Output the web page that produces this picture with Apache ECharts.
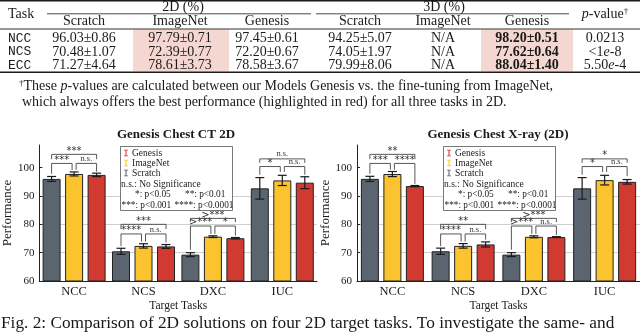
<!DOCTYPE html>
<html>
<head>
<meta charset="utf-8">
<script src="https://cdn.jsdelivr.net/npm/echarts@6/dist/echarts.min.js"></script>
<style>
  html, body { margin: 0; padding: 0; background: #fff; }
  #main { width: 640px; height: 333px; }
</style>
</head>
<body>
<div id="main"></div>
<script>
// ---- table (top) ----
const tableTasks = ['NCC', 'NCS', 'ECC'];
const scratch2D = ['96.03±0.86', '70.48±1.07', '71.27±4.64'];
const imagenet2D = ['97.79±0.71', '72.39±0.77', '78.61±3.73'];
const genesis2D = ['97.45±0.61', '72.20±0.67', '78.58±3.67'];
const scratch3D = ['94.25±5.07', '74.05±1.97', '79.99±8.06'];
const imagenet3D = ['N/A', 'N/A', 'N/A'];
const genesis3D = ['98.20±0.51', '77.62±0.64', '88.04±1.40'];
const pValues = ['0.0213', '<1e-8', '5.50e-4'];
const subHeaders = ['Scratch', 'ImageNet', 'Genesis', 'Scratch', 'ImageNet', 'Genesis'];

// ---- bar charts ----
const categories = ['NCC', 'NCS', 'DXC', 'IUC'];
const yTicks = [60, 70, 80, 90, 100];
const seriesNames = ['Scratch', 'ImageNet', 'Genesis'];

// Genesis Chest CT 2D
const ctScratch = [96.03, 70.48, 69.3, 92.7];
const ctScratchErr = [0.86, 1.07, 0.7, 3.8];
const ctImageNet = [97.79, 72.39, 75.65, 95.5];
const ctImageNetErr = [0.71, 0.77, 0.3, 1.8];
const ctGenesis = [97.45, 72.20, 75.1, 94.7];
const ctGenesisErr = [0.61, 0.67, 0.25, 2.1];
// [category, barA, barB, bracket level, foot A, foot B]
const ctBrackets = [
  [0, 0, 1, 101.5, 97.8, 99.2], [0, 1, 2, 101.5, 99.2, 98.6], [0, 0, 2, 104.7, 103.0, 103.0],
  [1, 0, 1, 76.6, 72.3, 73.9], [1, 1, 2, 76.6, 73.9, 73.6], [1, 0, 2, 80.0, 78.3, 78.3],
  [2, 0, 1, 79.4, 71.0, 76.6], [2, 1, 2, 79.4, 76.6, 76.0], [2, 0, 2, 82.1, 80.8, 80.8],
  [3, 0, 1, 100.4, 97.5, 98.5], [3, 1, 2, 100.4, 98.5, 97.5], [3, 0, 2, 103.1, 101.7, 101.7]
];
const ctBracketLabels = ['***', 'n.s.', '***', '****', 'n.s.', '***', '>***', '*', '>***', '*', 'n.s.', 'n.s.'];

// Genesis Chest X-ray (2D)
const xrScratch = [96.05, 70.5, 69.3, 92.7];
const xrScratchErr = [0.9, 1.1, 0.7, 3.8];
const xrImageNet = [97.75, 72.4, 75.6, 95.6];
const xrImageNetErr = [0.9, 0.8, 0.35, 1.7];
const xrGenesis = [93.5, 72.9, 75.5, 95.0];
const xrGenesisErr = [0.2, 0.9, 0.15, 0.8];
const xrBrackets = [
  [0, 0, 1, 101.5, 97.8, 99.3], [0, 1, 2, 101.5, 99.3, 94.3], [0, 0, 2, 104.7, 103.0, 103.0],
  [1, 0, 1, 76.6, 72.3, 73.9], [1, 1, 2, 76.6, 73.9, 74.6], [1, 0, 2, 80.0, 78.3, 78.3],
  [2, 0, 1, 79.4, 71.0, 76.6], [2, 1, 2, 79.4, 76.6, 76.2], [2, 0, 2, 82.1, 80.8, 80.8],
  [3, 0, 1, 100.4, 97.5, 98.5], [3, 1, 2, 100.4, 98.5, 97.0], [3, 0, 2, 103.1, 101.7, 101.7]
];
const xrBracketLabels = ['***', '****', '**', '****', 'n.s.', '**', '>***', 'n.s.', '>***', '*', 'n.s.', '*'];

const SERIF = '"Liberation Serif", "DejaVu Serif", serif';
const MONO = '"Liberation Mono", "DejaVu Sans Mono", monospace';
const INK = '#1a1a1a';
const COLORS = ['#5a6570', '#fbc42e', '#d13a31'];
const BAR_W = 18;
const BAR_STEP = 22.5;   // bar width + gap

function txt(x, y, text, o) {
  o = o || {};
  return {
    type: 'text', x: x, y: y, z: o.z || 10, silent: true,
    style: {
      text: text, fill: o.color || INK,
      fontSize: o.size || 14, fontFamily: o.family || SERIF,
      fontStyle: o.italic ? 'italic' : 'normal', fontWeight: o.bold ? 'bold' : 'normal',
      align: o.align || 'center', textAlign: o.align || 'center',
      verticalAlign: 'middle', textVerticalAlign: 'middle',
      rich: o.rich
    }
  };
}
function hline(x1, x2, y, w, z) {
  return { type: 'line', z: z || 10, silent: true, shape: { x1: x1, y1: y, x2: x2, y2: y }, style: { stroke: INK, lineWidth: w } };
}
const italicRich = (size) => ({
  i: { fontStyle: 'italic', fontSize: size, fontFamily: SERIF, fill: INK },
  s: { fontSize: size * 0.65, fontFamily: SERIF, fill: INK, verticalAlign: 'top', lineHeight: size }
});

// ---- table graphics ----
const colX = [84, 180, 267, 360, 443, 527];
const rowY = [38.5, 52, 65.5];
const tableG = [];
tableG.push(hline(0, 640, 0.8, 1.4));
tableG.push(txt(8, 14, 'Task', { align: 'left' }));
tableG.push(txt(183, 7, '2D (%)'));
tableG.push(txt(444, 7, '3D (%)'));
tableG.push(txt(605, 14, '{i|p}-value{s|†}', { rich: italicRich(14) }));
tableG.push(hline(47, 311, 13.8, 0.8));
tableG.push(hline(316, 569, 13.8, 0.8));
subHeaders.forEach((h, i) => tableG.push(txt(colX[i], 21, h)));
tableG.push(hline(0, 640, 29, 0.9));
tableG.push({ type: 'rect', z: 5, silent: true, shape: { x: 133, y: 29.5, width: 96, height: 42 }, style: { fill: '#f4d7d0' } });
tableG.push({ type: 'rect', z: 5, silent: true, shape: { x: 481, y: 29.5, width: 92, height: 42 }, style: { fill: '#f4d7d0' } });
tableTasks.forEach((t, r) => {
  const y = rowY[r];
  tableG.push(txt(8, y, t, { align: 'left', family: MONO, size: 13 }));
  tableG.push(txt(colX[0], y, scratch2D[r]));
  tableG.push(txt(colX[1], y, imagenet2D[r]));
  tableG.push(txt(colX[2], y, genesis2D[r]));
  tableG.push(txt(colX[3], y, scratch3D[r]));
  tableG.push(txt(colX[4], y, imagenet3D[r]));
  tableG.push(txt(colX[5], y, genesis3D[r], { bold: true }));
  tableG.push(txt(605, y, pValues[r].replace('e', '{i|e}'), { rich: italicRich(14) }));
});
tableG.push(hline(0, 640, 72.3, 1.4));
// footnote
tableG.push(txt(19, 86.5, '{s|†}These {i|p}-values are calculated between our Models Genesis vs. the fine-tuning from ImageNet,', { align: 'left', rich: italicRich(14) }));
tableG.push(txt(22, 102.5, 'which always offers the best performance (highlighted in red) for all three tasks in 2D.', { align: 'left' }));
// caption
tableG.push(txt(1, 323.5, 'Fig. 2: Comparison of 2D solutions on four 2D target tasks. To investigate the same- and', { align: 'left', size: 17.3 }));

// ---- chart titles & legend boxes ----
const chartG = [];
chartG.push(txt(176, 135, 'Genesis Chest CT 2D', { bold: true, size: 13 }));
chartG.push(txt(498, 135, 'Genesis Chest X-ray (2D)', { bold: true, size: 13 }));
[120, 443].forEach((bx) => {
  chartG.push({ type: 'rect', z: 4, silent: true, shape: { x: bx + 0.5, y: 146.5, width: 112, height: 64 }, style: { fill: '#fff', stroke: '#555', lineWidth: 0.8 } });
  chartG.push(txt(bx + 1, 184, 'n.s.: No Significance', { align: 'left', size: 9.5 }));
  chartG.push(txt(bx + 15, 194.8, '*: p<0.05', { align: 'left', size: 9.3 }));
  chartG.push(txt(bx + 65, 194.8, '**: p<0.01', { align: 'left', size: 9.3 }));
  chartG.push(txt(bx + 1.5, 205.5, '***: p<0.001', { align: 'left', size: 9.3 }));
  chartG.push(txt(bx + 54.5, 205.5, '****: p<0.0001', { align: 'left', size: 9.3 }));
});

// ---- series builders ----
function barSeries(values, idx, axis) {
  return {
    name: seriesNames[idx], type: 'bar', xAxisIndex: axis, yAxisIndex: axis,
    data: values, barWidth: BAR_W, barGap: '25%',
    itemStyle: { color: COLORS[idx], borderColor: '#222', borderWidth: 1 }
  };
}
function errorSeries(means, errs, axis) {
  const data = [];
  means.forEach((arr, b) => arr.forEach((m, c) => data.push([c, m, errs[b][c], b])));
  return {
    type: 'custom', xAxisIndex: axis, yAxisIndex: axis, z: 3, silent: true,
    data: data,
    renderItem: (params, api) => {
      const c = api.value(0), m = api.value(1), e = api.value(2), b = api.value(3);
      const x = api.coord([c, m])[0] + (b - 1) * BAR_STEP;
      const yt = api.coord([c, m + e])[1];
      const yb = api.coord([c, m - e])[1];
      const st = { stroke: '#1a1a1a', lineWidth: 1.2 };
      return {
        type: 'group', children: [
          { type: 'line', shape: { x1: x, y1: yt, x2: x, y2: yb }, style: st },
          { type: 'line', shape: { x1: x - 4.5, y1: yt, x2: x + 4.5, y2: yt }, style: st },
          { type: 'line', shape: { x1: x - 4.5, y1: yb, x2: x + 4.5, y2: yb }, style: st }
        ]
      };
    }
  };
}
function bracketSeries(brackets, labels, axis) {
  return {
    type: 'custom', xAxisIndex: axis, yAxisIndex: axis, z: 3, silent: true,
    data: brackets,
    renderItem: (params, api) => {
      const c = api.value(0), a = api.value(1), b = api.value(2);
      const lvl = api.value(3), fa = api.value(4), fb = api.value(5);
      const cx = api.coord([c, lvl])[0];
      const inner = (b - a) === 1;
      const xa = cx + (a - 1) * BAR_STEP + (inner && a === 1 ? 2 : 0);
      const xb = cx + (b - 1) * BAR_STEP - (inner && b === 1 ? 2 : 0);
      const yl = api.coord([c, lvl])[1];
      const ya = api.coord([c, fa])[1];
      const yb = api.coord([c, fb])[1];
      const lab = labels[params.dataIndex];
      const stars = lab.indexOf('*') >= 0;
      return {
        type: 'group', children: [
          { type: 'polyline', shape: { points: [[xa, ya], [xa, yl], [xb, yl], [xb, yb]] }, style: { stroke: '#444', fill: null, lineWidth: 0.9 } },
          { type: 'text', x: (xa + xb) / 2, y: yl + (stars ? 1.8 : -0.2), style: {
              text: lab, fill: '#333', fontSize: stars ? 10 : 8.5,
              fontFamily: stars ? '"DejaVu Sans", sans-serif' : SERIF,
              align: 'center', textAlign: 'center', verticalAlign: 'bottom', textVerticalAlign: 'bottom' } }
        ]
      };
    }
  };
}

function xAxisOpt(gi) {
  return {
    type: 'category', gridIndex: gi, data: categories,
    axisLine: { lineStyle: { color: '#222', width: 1 } },
    axisTick: { show: false },
    axisLabel: { color: INK, fontFamily: SERIF, fontSize: 12.5, margin: 4 },
    name: 'Target Tasks', nameLocation: 'middle', nameGap: 19,
    nameTextStyle: { color: INK, fontFamily: SERIF, fontSize: 11.5 }
  };
}
function yAxisOpt(gi) {
  return {
    type: 'value', gridIndex: gi, min: 60, max: 108, interval: 10,
    axisLine: { show: true, lineStyle: { color: '#222', width: 1 } },
    axisTick: { show: true, inside: true, length: 3, customValues: yTicks, lineStyle: { color: '#222' } },
    axisLabel: { color: INK, fontFamily: SERIF, fontSize: 11, margin: 5, customValues: yTicks },
    splitLine: { show: true, showMinLine: false, showMaxLine: false, lineStyle: { color: '#cfcfcf', width: 1 } },
    name: 'Performance', nameLocation: 'middle', nameGap: 21,
    nameTextStyle: { color: INK, fontFamily: SERIF, fontSize: 13 }
  };
}
const legendIcon = 'path://M0,0H6V1.2H3.8V8.8H6V10H0V8.8H2.2V1.2H0Z';
function legendOpt(left) {
  return {
    data: ['Genesis', 'ImageNet', 'Scratch'], left: left, top: 148, orient: 'vertical', z: 6,
    icon: legendIcon, itemWidth: 4, itemHeight: 8, itemGap: 0, selectedMode: false,
    itemStyle: { borderWidth: 0 }, padding: 0,
    textStyle: { color: INK, fontFamily: SERIF, fontSize: 9.5, lineHeight: 8, padding: [0, 0, 0, -1] }
  };
}

const chart = echarts.init(document.getElementById('main'));
chart.setOption({
  animation: false,
  backgroundColor: '#fff',
  graphic: { elements: tableG.concat(chartG) },
  grid: [
    { left: 35, right: 323, top: 145, bottom: 52 },
    { left: 357, right: 0, top: 145, bottom: 52 }
  ],
  xAxis: [xAxisOpt(0), xAxisOpt(1)],
  yAxis: [yAxisOpt(0), yAxisOpt(1)],
  legend: [legendOpt(124), legendOpt(447)],
  series: [
    barSeries(ctScratch, 0, 0), barSeries(ctImageNet, 1, 0), barSeries(ctGenesis, 2, 0),
    errorSeries([ctScratch, ctImageNet, ctGenesis], [ctScratchErr, ctImageNetErr, ctGenesisErr], 0),
    bracketSeries(ctBrackets, ctBracketLabels, 0),
    barSeries(xrScratch, 0, 1), barSeries(xrImageNet, 1, 1), barSeries(xrGenesis, 2, 1),
    errorSeries([xrScratch, xrImageNet, xrGenesis], [xrScratchErr, xrImageNetErr, xrGenesisErr], 1),
    bracketSeries(xrBrackets, xrBracketLabels, 1)
  ]
});
</script>
</body>
</html>
